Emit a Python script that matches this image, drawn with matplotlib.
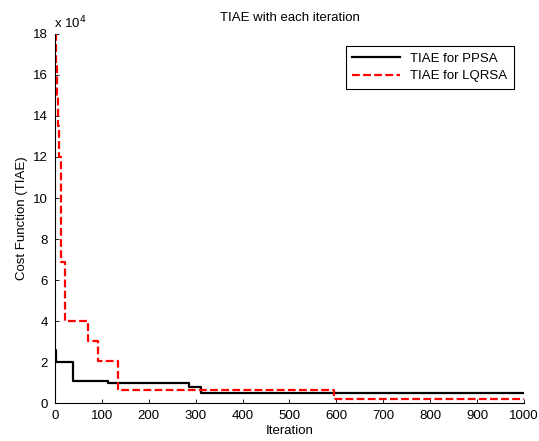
import matplotlib
matplotlib.use("Agg")
import matplotlib.pyplot as plt
from matplotlib.ticker import FuncFormatter

plt.rcParams['font.family'] = ['Liberation Sans', 'DejaVu Sans']

# Step data (iteration where the value changes, value)
ppsa_iter = [0, 3, 39, 113, 286, 311, 1000]
ppsa_tiae = [2.6e4, 2.0e4, 1.1e4, 0.97e4, 0.78e4, 0.48e4, 0.48e4]

lqrsa_iter = [0, 2, 4, 6, 9, 13, 21, 70, 92, 135, 595, 1000]
lqrsa_tiae = [18e4, 16.5e4, 15e4, 13.5e4, 12e4, 6.9e4, 4.0e4, 3.05e4,
              2.05e4, 0.65e4, 0.22e4, 0.22e4]

fs = 9.5

fig = plt.figure(figsize=(5.39, 4.41), dpi=100)
ax = fig.add_axes([0.102, 0.086, 0.870, 0.837])

ax.plot(ppsa_iter, ppsa_tiae, drawstyle='steps-post', color='black',
        linewidth=1.6, label='TIAE for PPSA')
ax.plot(lqrsa_iter, lqrsa_tiae, drawstyle='steps-post', color='red',
        linestyle=(0, (3.5, 1.5)), linewidth=1.6, label='TIAE for LQRSA')

ax.set_xlim(0, 1000)
ax.set_ylim(0, 18e4)
ax.set_xticks(range(0, 1001, 100))
ax.set_yticks([i * 2e4 for i in range(10)])
ax.yaxis.set_major_formatter(FuncFormatter(lambda v, p: '%d' % round(v / 1e4)))
ax.tick_params(direction='in', labelsize=fs, length=3, width=0.6, pad=5)
ax.spines['top'].set_visible(False)
ax.spines['right'].set_visible(False)
for s in ('left', 'bottom'):
    ax.spines[s].set_linewidth(0.8)

ax.text(-0.002, 1.008, r'x 10$^4$', transform=ax.transAxes, fontsize=fs,
        ha='left', va='bottom')
ax.set_title('TIAE with each iteration', fontsize=fs, pad=9)
ax.set_xlabel('Iteration', fontsize=fs, labelpad=2)
ax.set_ylabel('Cost Function (TIAE)', fontsize=fs, labelpad=4)

leg = ax.legend(loc='upper right', fontsize=fs, fancybox=False,
                edgecolor='black', framealpha=1, handlelength=3.6,
                borderpad=0.5, labelspacing=0.4, bbox_to_anchor=(0.993, 0.985))
leg.get_frame().set_linewidth(0.8)

fig.savefig('out.png', dpi=100)
